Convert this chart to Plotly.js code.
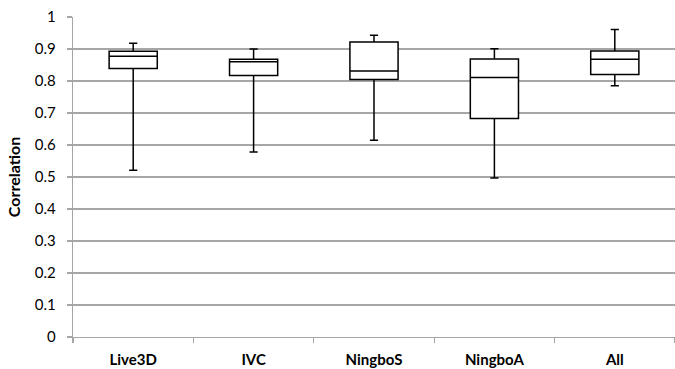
<!DOCTYPE html>
<html>
<head>
<meta charset="utf-8">
<script src="https://cdn.plot.ly/plotly-3.0.1.min.js"></script>
<style>html,body{margin:0;padding:0;background:#fff;}#chart{width:675px;height:369px;}</style>
</head>
<body>
<div id="chart"></div>
<script>
const categories = ["Live3D", "IVC", "NingboS", "NingboA", "All"];
const lowerWhisker = [0.521, 0.578, 0.615, 0.497, 0.785];
const q1Values     = [0.839, 0.817, 0.805, 0.683, 0.820];
const medianValues = [0.877, 0.860, 0.831, 0.811, 0.868];
const q3Values     = [0.893, 0.868, 0.922, 0.869, 0.894];
const upperWhisker = [0.918, 0.900, 0.943, 0.901, 0.961];
const yTickValues = [0, 0.1, 0.2, 0.3, 0.4, 0.5, 0.6, 0.7, 0.8, 0.9, 1];
const yTickLabels = ["0", "0.1", "0.2", "0.3", "0.4", "0.5", "0.6", "0.7", "0.8", "0.9", "1"];

const FONT = "Lato, 'Open Sans', sans-serif";

const trace = {
  type: "box",
  x: categories,
  q1: q1Values,
  median: medianValues,
  q3: q3Values,
  lowerfence: lowerWhisker,
  upperfence: upperWhisker,
  fillcolor: "#ffffff",
  line: {color: "#000000", width: 1.5},
  whiskerwidth: 0.17,
  width: 0.4,
  boxpoints: false,
  hoverinfo: "skip",
  showlegend: false
};

const layout = {
  width: 675,
  height: 369,
  margin: {l: 73, r: 0, t: 17, b: 32},
  paper_bgcolor: "#ffffff",
  plot_bgcolor: "#ffffff",
  font: {family: FONT, color: "#000000", size: 15},
  xaxis: {
    type: "category",
    showline: true,
    linecolor: "#a6a6a6",
    linewidth: 1.3,
    ticks: "outside",
    tickson: "boundaries",
    ticklen: 5,
    tickcolor: "#a6a6a6",
    tickwidth: 1.3,
    ticklabelstandoff: 9,
    showgrid: false,
    zeroline: false,
    tickfont: {family: FONT, size: 15, color: "#000000", weight: "bold"},
    range: [-0.5, 4.5],
    automargin: false,
    fixedrange: true
  },
  yaxis: {
    range: [0, 1],
    tickvals: yTickValues,
    ticktext: yTickLabels,
    showline: true,
    linecolor: "#a6a6a6",
    linewidth: 1.3,
    ticks: "outside",
    ticklen: 5,
    tickcolor: "#a6a6a6",
    tickwidth: 1.3,
    ticklabelstandoff: 8,
    showgrid: true,
    gridcolor: "#a6a6a6",
    gridwidth: 1.3,
    zeroline: false,
    automargin: false,
    tickfont: {family: FONT, size: 15, color: "#000000"},
    title: {text: "Correlation", font: {family: FONT, size: 16, color: "#000000", weight: "bold"}, standoff: 10},
    fixedrange: true
  }
};

Plotly.newPlot("chart", [trace], layout, {displayModeBar: false, staticPlot: true});
</script>
</body>
</html>
